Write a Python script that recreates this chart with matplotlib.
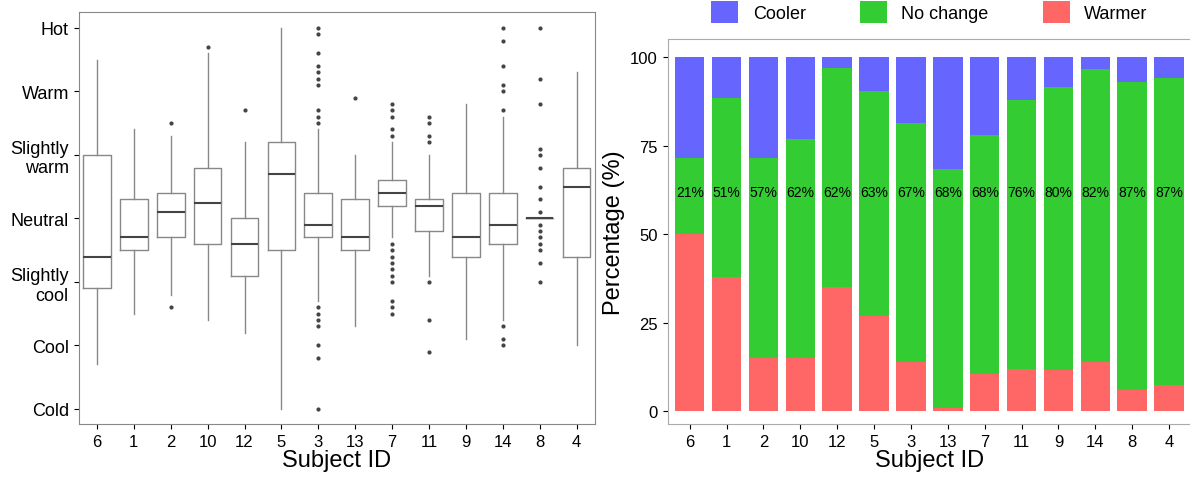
import numpy as np
import matplotlib.pyplot as plt

subjects = ['6', '1', '2', '10', '12', '5', '3', '13', '7', '11', '9', '14', '8', '4']

# box statistics (scale: Cold=-3 ... Hot=3)
q1 = [-1.1, -0.5, -0.3, -0.4, -0.9, -0.5, -0.3, -0.5, 0.2, -0.2, -0.6, -0.4, 0.0, -0.6]
med = [-0.6, -0.3, 0.1, 0.25, -0.4, 0.7, -0.1, -0.3, 0.4, 0.2, -0.3, -0.1, 0.0, 0.5]
q3 = [1.0, 0.3, 0.4, 0.8, 0.0, 1.2, 0.4, 0.3, 0.6, 0.3, 0.4, 0.4, 0.0, 0.8]
wlo = [-2.3, -1.5, -1.2, -1.6, -1.8, -3.0, -1.3, -1.7, -0.3, -0.9, -1.9, -1.6, 0.0, -2.0]
whi = [2.5, 1.4, 1.3, 2.6, 1.2, 3.0, 1.4, 1.0, 1.2, 1.0, 1.8, 1.6, 0.0, 2.3]
fliers = [
    [],
    [],
    [1.5, -1.4],
    [2.7],
    [1.7],
    [],
    [3, 2.9, 2.6, 2.4, 2.3, 2.2, 2.1, 1.7, 1.6, 1.5, -1.4, -1.5, -1.6, -1.7, -2.0, -2.2, -3],
    [1.9],
    [1.8, 1.7, 1.6, 1.4, 1.3, -0.4, -0.5, -0.6, -0.7, -0.8, -0.9, -1.0, -1.3, -1.4, -1.5],
    [1.6, 1.5, 1.3, 1.2, -1.0, -1.6, -2.1],
    [],
    [3, 2.8, 2.4, 2.1, 2.0, 1.7, -1.7, -1.9, -2.0],
    [3, 2.2, 1.8, 1.1, 1.0, 0.8, 0.5, 0.3, 0.1, -0.1, -0.2, -0.3, -0.4, -0.5, -0.7, -1.0],
    [],
]
sensation_labels = ['Cold', 'Cool', 'Slightly\ncool', 'Neutral', 'Slightly\nwarm', 'Warm', 'Hot']

# stacked percentages
warmer = [50, 38, 15, 15, 35, 27, 14, 1, 10.5, 12, 11.5, 14, 6, 7.5]
no_change = [21.5, 50.5, 56.5, 62, 62, 63.5, 67.5, 67.5, 67.5, 76, 80, 82.5, 87, 86.5]
pct_labels = ['21%', '51%', '57%', '62%', '62%', '63%', '67%', '68%', '68%', '76%', '80%', '82%', '87%', '87%']
cooler = [100 - w - n for w, n in zip(warmer, no_change)]

plt.rcParams['font.family'] = ['Liberation Sans', 'DejaVu Sans']
fig = plt.figure(figsize=(11.9, 4.81), dpi=100)
ax1 = fig.add_axes([0.066, 0.116, 0.434, 0.857])
ax2 = fig.add_axes([0.561, 0.116, 0.44, 0.80])

stats = []
for i in range(len(subjects)):
    stats.append(dict(q1=q1[i], med=med[i], q3=q3[i], whislo=wlo[i], whishi=whi[i], fliers=fliers[i]))
ax1.bxp(stats, positions=range(1, 15), widths=0.75,
        boxprops=dict(color='#888888', linewidth=1),
        whiskerprops=dict(color='#888888', linewidth=1),
        capprops=dict(linewidth=0),
        medianprops=dict(color='#444444', linewidth=1.5),
        flierprops=dict(marker='o', markersize=2, markerfacecolor='#444444', markeredgecolor='#444444'))
ax1.set_ylim(-3.24, 3.25)
ax1.set_xlim(0.5, 14.5)
ax1.set_yticks(range(-3, 4))
ax1.set_yticklabels(sensation_labels, fontsize=13)
ax1.set_xticks(range(1, 15))
ax1.set_xticklabels(subjects, fontsize=12)
ax1.set_xlabel('Subject ID', fontsize=17, labelpad=0)
for s in ax1.spines.values():
    s.set_color('#888888')

x = np.arange(len(subjects))
ax2.bar(x, warmer, width=0.8, color='#FF6666', label='Warmer')
ax2.bar(x, no_change, width=0.8, bottom=warmer, color='#33CC33', label='No change')
ax2.bar(x, cooler, width=0.8, bottom=np.add(warmer, no_change), color='#6666FF', label='Cooler')
for i in x:
    ax2.text(i, 62, pct_labels[i], ha='center', va='center', fontsize=10)
ax2.set_xlim(-0.6, 13.6)
ax2.set_ylim(-3.7, 105)
ax2.set_yticks([0, 25, 50, 75, 100])
ax2.tick_params(labelsize=12)
ax2.set_xticks(x)
ax2.set_xticklabels(subjects, fontsize=12)
ax2.set_xlabel('Subject ID', fontsize=17, labelpad=0)
ax2.set_ylabel('Percentage (%)', fontsize=17)
ax2.spines['right'].set_visible(False)
for s in ax2.spines.values():
    s.set_color('#aaaaaa')
h, l = ax2.get_legend_handles_labels()
ax2.legend(h[::-1], l[::-1], loc='lower center', bbox_to_anchor=(0.5, 1.0), ncol=3,
           frameon=False, fontsize=13, handlelength=1.5, handleheight=1.5, columnspacing=3)

fig.savefig('out.png', dpi=100)
